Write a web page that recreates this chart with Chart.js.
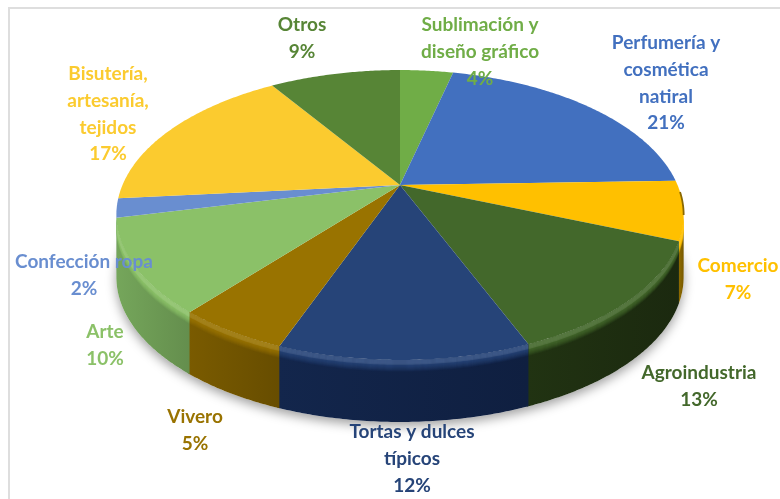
<!DOCTYPE html>
<html>
<head>
<meta charset="utf-8">
<style>
  html, body { margin: 0; padding: 0; background: #fff; overflow: hidden; }
  #marco { position: absolute; left: 8px; top: 7px; right: -4px; bottom: -4px; border-left: 2px solid #dedede; border-top: 2px solid #dedede; }
  canvas { position: absolute; left: 0; top: 0; filter: blur(0.5px); }
</style>
</head>
<body>
<div id="marco"></div>
<canvas id="grafico" width="780" height="499"></canvas>
<script src="https://cdn.jsdelivr.net/npm/chart.js@4/dist/chart.umd.js"></script>
<script>
// Rubros (cada linea es un renglon de la etiqueta)
const categorias = [
  ['Sublimación y', 'diseño gráfico'],
  ['Perfumería y', 'cosmética', 'natiral'],
  ['Comercio'],
  ['Agroindustria'],
  ['Tortas y dulces', 'típicos'],
  ['Vivero'],
  ['Arte'],
  ['Confección ropa'],
  ['Bisutería,', 'artesanía,', 'tejidos'],
  ['Otros']
];
// Porcentajes (la etiqueta los muestra redondeados)
const valores = [3.7, 20.8, 6.6, 12.8, 11.8, 5.3, 10.4, 2.1, 17.4, 9.1];
const colores = ['#70AD47', '#4270BF', '#FFC000', '#43682B', '#264478', '#997300', '#8BC168', '#698ED0', '#FBCB2F', '#578536'];
const coloresLado = ['#4c7a30', '#2c4c86', '#8a6800', '#1f3011', '#12244a', '#785a00', '#74a55a', '#4a6aa0', '#a88a20', '#3a5a24'];

// Inclinacion del disco: perspectiva y grosor del lateral
const PERSPECTIVA = 0.207;
const GROSOR = 62;

function proyectar(arc, fi, bajada) {
  const x = Math.sin(fi), y = -Math.cos(fi);
  const f = 1 / (1 - PERSPECTIVA * y);
  return [arc.x + arc.outerRadius * 1.5 * x * f, arc.y + arc.outerRadius * 0.75 * y * f + bajada];
}

function mezcla(a, b, t) {
  const n = h => [1, 3, 5].map(i => parseInt(h.substr(i, 2), 16));
  const ca = n(a), cb = n(b);
  return 'rgb(' + ca.map((v, i) => Math.round(v + (cb[i] - v) * t)).join(',') + ')';
}

function borde(ctx, arc, desde, hasta, bajada, inverso) {
  const pasos = Math.max(2, Math.ceil((hasta - desde) / 0.01));
  for (let i = 0; i <= pasos; i++) {
    const t = inverso ? 1 - i / pasos : i / pasos;
    const p = proyectar(arc, desde + (hasta - desde) * t, bajada);
    ctx.lineTo(p[0], p[1]);
  }
}

class Pastel3D extends Chart.PieController {
  draw() {
    const ctx = this.chart.ctx;
    const arcos = this.getMeta().data;
    const ds = this.getDataset();
    const uno = arcos[0];

    // sombra bajo el disco
    ctx.save();
    ctx.shadowColor = 'rgba(0,0,0,0.38)';
    ctx.shadowBlur = 11;
    ctx.shadowOffsetY = 4;
    ctx.fillStyle = '#fff';
    ctx.beginPath();
    borde(ctx, uno, 0, Math.PI * 2, GROSOR, false);
    ctx.closePath();
    ctx.fill();
    ctx.restore();

    // lateral visible: relleno entero y luego el brillo del canto
    const iniVisible = Math.PI - Math.acos(PERSPECTIVA);
    const finVisible = Math.PI + Math.acos(PERSPECTIVA);
    arcos.forEach((arc, i) => {
      // un poco de solape para que no quede costura blanca entre porciones
      const desde = Math.max(arc.startAngle + Math.PI / 2, iniVisible);
      const hasta = Math.min(arc.endAngle + Math.PI / 2 + 0.006, finVisible);
      if (hasta <= desde) return;
      const izq = proyectar(arc, hasta, 0)[0], der = proyectar(arc, desde, 0)[0];
      const grad = ctx.createLinearGradient(izq, 0, der, 0);
      grad.addColorStop(0, mezcla(ds.coloresLado[i], colores[i], 0.05));
      grad.addColorStop(1, mezcla(ds.coloresLado[i], '#000000', 0.14));
      ctx.save();
      ctx.beginPath();
      borde(ctx, arc, desde, hasta, 0, false);
      borde(ctx, arc, desde, hasta, GROSOR, true);
      ctx.closePath();
      ctx.fillStyle = grad;
      ctx.fill();
      ctx.clip();
      ctx.lineWidth = 1.6;
      for (let d = 11; d >= 0; d--) {
        ctx.globalAlpha = Math.min(1, 1 - (d - 3) / 9);
        ctx.strokeStyle = mezcla(colores[i], '#ffffff', d < 5 ? 0.1 : 0);
        ctx.beginPath();
        borde(ctx, arc, desde, hasta, d, false);
        ctx.stroke();
      }
      ctx.restore();
    });

    // cara superior
    arcos.forEach(arc => {
      ctx.fillStyle = arc.options.backgroundColor;
      ctx.beginPath();
      ctx.moveTo(arc.x, arc.y);
      borde(ctx, arc, arc.startAngle + Math.PI / 2, arc.endAngle + Math.PI / 2, 0, false);
      ctx.closePath();
      ctx.fill();
    });

    // filo oscuro del canto derecho
    arcos.forEach((arc, i) => {
      const desde = Math.max(arc.startAngle + Math.PI / 2, 1.62);
      const hasta = Math.min(arc.endAngle + Math.PI / 2, iniVisible);
      if (hasta <= desde) return;
      ctx.strokeStyle = ds.coloresLado[i];
      ctx.lineWidth = 1.8;
      ctx.beginPath();
      borde(ctx, arc, desde, hasta, 0, false);
      ctx.stroke();
    });
  }
}
Pastel3D.id = 'pastel3d';
Chart.register(Pastel3D);

// Etiquetas con nombre y porcentaje
const etiquetas = {
  id: 'etiquetas',
  afterDraw(chart) {
    const ctx = chart.ctx;
    const sitios = [[480, 25], [666, 43], [738, 266], [699, 373], [412, 432], [195, 417], [105, 332], [84, 262], [108, 74], [302, 25]];
    ctx.save();
    ctx.font = '700 19px Lato';
    ctx.textAlign = 'center';
    ctx.textBaseline = 'middle';
    categorias.forEach((lineas, i) => {
      ctx.fillStyle = colores[i];
      const texto = lineas.concat(Math.round(valores[i]) + '%');
      texto.forEach((t, j) => ctx.fillText(t, sitios[i][0], sitios[i][1] + j * 26.7));
    });
    ctx.restore();
  }
};

new Chart(document.getElementById('grafico').getContext('2d'), {
  type: 'pastel3d',
  data: {
    labels: categorias.map(c => c.join(' ')),
    datasets: [{
      data: valores,
      backgroundColor: colores,
      coloresLado: coloresLado,
      borderWidth: 0
    }]
  },
  options: {
    responsive: false,
    animation: false,
    layout: { padding: { left: 20, bottom: 129 } },
    plugins: { legend: { display: false }, tooltip: { enabled: false } }
  },
  plugins: [etiquetas]
});
</script>
</body>
</html>
